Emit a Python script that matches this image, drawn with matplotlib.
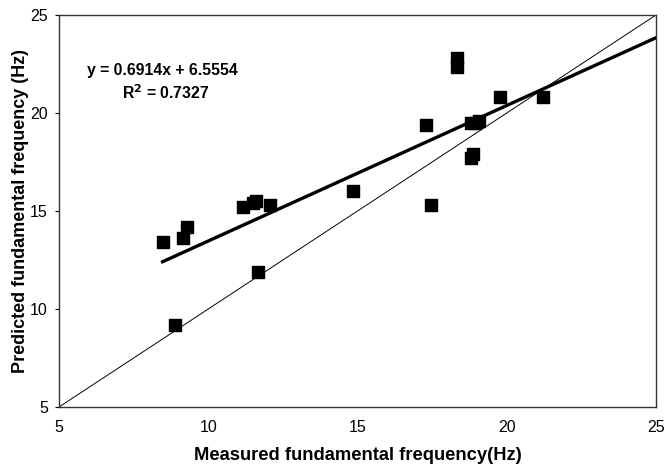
import matplotlib
matplotlib.use("Agg")
import matplotlib.pyplot as plt
import numpy as np

plt.rcParams['font.family'] = ['Liberation Sans', 'DejaVu Sans']

measured = [8.47, 9.16, 9.28, 8.89, 11.68, 11.17, 11.5, 11.6, 12.07, 14.86,
            17.29, 17.46, 18.32, 18.32, 18.79, 18.92, 19.08, 18.79, 18.88, 19.77, 21.2]
predicted = [13.4, 13.6, 14.2, 9.2, 11.9, 15.2, 15.4, 15.5, 15.3, 16.0,
             19.4, 15.3, 22.35, 22.8, 19.5, 19.5, 19.6, 17.7, 17.9, 20.8, 20.8]
slope, intercept = 0.6914, 6.5554
r2 = 0.7327
ticks = [5, 10, 15, 20, 25]

fig = plt.figure(figsize=(6.65, 4.68), dpi=100)
ax = fig.add_axes([0.0887, 0.1303, 0.8978, 0.8377])

ax.plot([5, 25], [5, 25], color='black', lw=0.7, zorder=2)
xs = np.array([min(measured), 25])
ax.plot(xs, slope * xs + intercept, color='black', lw=2.4, zorder=3)
ax.scatter(measured, predicted, marker='s', s=68, color='black', zorder=4)

ax.set_xlim(5, 25)
ax.set_ylim(5, 25)
ax.set_xticks(ticks)
ax.set_yticks(ticks)
ax.tick_params(axis='both', labelsize=11.5, length=3, width=0.8, direction='out', pad=5)
ax.tick_params(axis='x', length=0, pad=9)
for s in ax.spines.values():
    s.set_linewidth(1.0)
    s.set_color('#333333')

ax.set_xlabel('Measured fundamental frequency(Hz)', fontsize=13.2, fontweight='bold', labelpad=9)
ax.set_ylabel('Predicted fundamental frequency (Hz)', fontsize=13.0, fontweight='bold', labelpad=1)

ax.text(5.95, 22.15, 'y = 0.6914x + 6.5554', fontsize=11.3, fontweight='bold', va='center', ha='left')
ax.text(7.1, 21.05, 'R$^{\\mathbf{2}}$ = %.4f' % r2, fontsize=11.3, fontweight='bold', va='center', ha='left')

fig.savefig('out.png', dpi=100)
